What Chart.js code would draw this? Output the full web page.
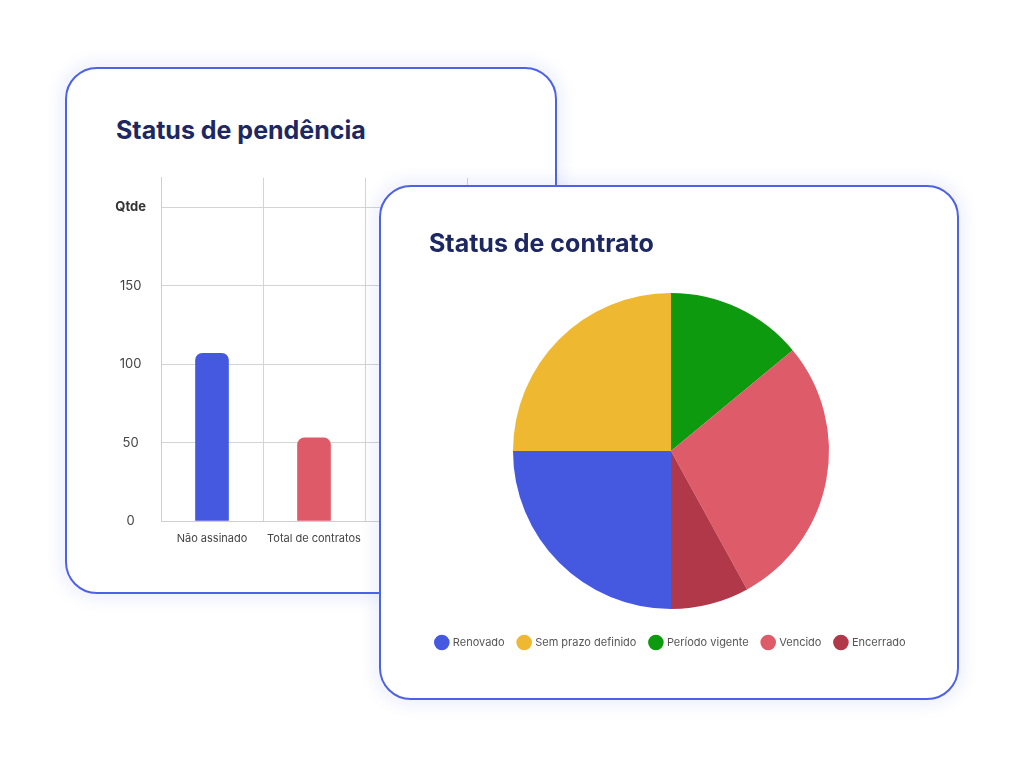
<!DOCTYPE html>
<html lang="pt-BR">
<head>
<meta charset="utf-8">
<title>Status de pendência e Status de contrato</title>
<script src="https://cdn.jsdelivr.net/npm/chart.js@4/dist/chart.umd.min.js"></script>
<style>
  html, body { margin: 0; padding: 0; background: #ffffff; }
  body { width: 1024px; height: 765px; position: relative; overflow: hidden; font-family: Inter, "Noto Sans", sans-serif; }
  .card { position: absolute; background: #ffffff; border: 2px solid #4d62e5; border-radius: 32px; box-sizing: border-box;
          box-shadow: 0 0 14px 7px rgba(92, 110, 232, 0.09); }
  #card1 { left: 65px; top: 67px; width: 492px; height: 527px; z-index: 1; }
  #card2 { left: 379px; top: 185px; width: 580px; height: 515px; z-index: 2; }
  .title { position: absolute; margin: 0; font-family: Inter, sans-serif; font-weight: 700; font-size: 25px; line-height: 25px;
           color: #1d2862; white-space: nowrap; letter-spacing: 0; }
  #t1 { left: 116px; top: 118px; z-index: 1; }
  #t2 { left: 429px; top: 231px; z-index: 3; }
  .wrap { position: absolute; }
  #w1 { left: 100px; top: 155px; width: 372px; height: 422px; z-index: 1; }
  #w2 { left: 401px; top: 279px; width: 540px; height: 379px; z-index: 3; }
</style>
</head>
<body>
<div class="card" id="card1"></div>
<h2 class="title" id="t1">Status de pendência</h2>
<div class="wrap" id="w1"><canvas id="barChart"></canvas></div>

<div class="card" id="card2"></div>
<h2 class="title" id="t2">Status de contrato</h2>
<div class="wrap" id="w2"><canvas id="pieChart"></canvas></div>

<script>
// ---- Data: Status de pendência (bar) ----
const barCategories = ["Não assinado", "Total de contratos", "Assinado"];
const barValues = [107, 53, 40];
const barColors = ["#4459e0", "#de5a69", "#0e9a0e"];
const yTickValues = [0, 50, 100, 150, 200];
const yAxisTitleTick = "Qtde";

// ---- Data: Status de contrato (pie) ----
const pieLabels = ["Renovado", "Sem prazo definido", "Período vigente", "Vencido", "Encerrado"];
const pieValues = [25, 25, 14, 28, 8];
const pieColors = ["#4459e0", "#efb831", "#0e9a0e", "#de5b69", "#b03849"];

Chart.defaults.font.family = "Inter, 'Noto Sans', sans-serif";
Chart.defaults.animation = false;

new Chart(document.getElementById("barChart"), {
  type: "bar",
  data: {
    labels: barCategories,
    datasets: [{
      data: barValues,
      backgroundColor: barColors,
      borderRadius: 7,
      borderSkipped: "start",
      barThickness: 33
    }]
  },
  options: {
    responsive: true,
    maintainAspectRatio: false,
    layout: { padding: { top: 10, right: 5, left: 0, bottom: 0 } },
    plugins: { legend: { display: false }, tooltip: { enabled: false } },
    scales: {
      x: {
        grid: { color: "#d4d4d4", lineWidth: 1, drawTicks: false },
        border: { color: "#cfcfcf", width: 1 },
        ticks: { color: "#444", font: { size: 11 }, padding: 11 },
        afterFit: (s) => { s.height = 56; }
      },
      y: {
        min: 0,
        max: 219,
        afterBuildTicks: (s) => { s.ticks = yTickValues.map(v => ({ value: v })); },
        grid: { color: "#d4d4d4", lineWidth: 1, drawTicks: false },
        border: { color: "#cfcfcf", width: 1 },
        ticks: {
          color: (c) => c.tick && c.tick.value === 200 ? "#333" : "#444",
          font: (c) => (c.tick && c.tick.value === 200) ? { size: 13, weight: "bold" } : { size: 13 },
          padding: 15,
          crossAlign: "center",
          callback: (v) => v === 200 ? yAxisTitleTick : String(v)
        },
        afterFit: (s) => { s.width = 61; }
      }
    }
  }
});

new Chart(document.getElementById("pieChart"), {
  type: "pie",
  data: {
    labels: pieLabels,
    datasets: [{
      data: pieValues,
      backgroundColor: pieColors,
      borderWidth: 0,
      radius: 158
    }]
  },
  options: {
    responsive: true,
    maintainAspectRatio: false,
    rotation: 180,
    layout: { padding: 0 },
    plugins: {
      tooltip: { enabled: false },
      legend: {
        position: "bottom",
        labels: {
          usePointStyle: true,
          pointStyle: "circle",
          color: "#555",
          font: { size: 11 },
          padding: 14
        }
      }
    }
  }
});
</script>
</body>
</html>
